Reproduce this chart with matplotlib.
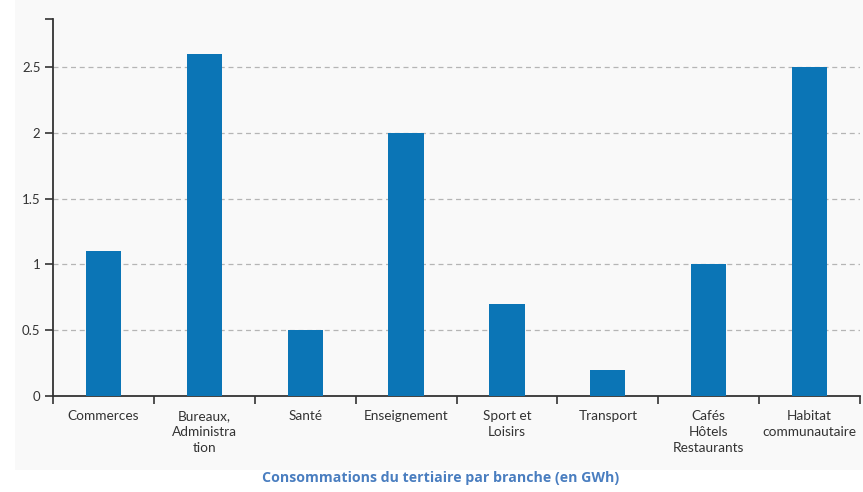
import numpy as np
import matplotlib
matplotlib.use('Agg')
import matplotlib.pyplot as plt

categories = ['Commerces', 'Bureaux,\nAdministra\ntion', 'Santé', 'Enseignement',
              'Sport et\nLoisirs', 'Transport', 'Cafés\nHôtels\nRestaurants',
              'Habitat\ncommunautaire']
values = [1.1, 2.6, 0.5, 2.0, 0.7, 0.2, 1.0, 2.5]
yticks = [0, 0.5, 1, 1.5, 2, 2.5]
ytick_labels = ['0', '0.5', '1', '1.5', '2', '2.5']
title = 'Consommations du tertiaire par branche (en GWh)'

plt.rcParams['font.family'] = ['Lato', 'DejaVu Sans']

fig = plt.figure(figsize=(8.63, 4.92), dpi=100)
fig.patch.set_facecolor('white')

# panneau gris clair derrière le graphique
bg = fig.add_axes([15 / 863, 22 / 492, 848 / 863, 470 / 492], zorder=0)
bg.set_facecolor('#f9f9f9')
bg.set_xticks([])
bg.set_yticks([])
for s in bg.spines.values():
    s.set_visible(False)

ax = fig.add_axes([53 / 863, 96 / 492, 807 / 863, 377 / 492], zorder=1)
ax.set_facecolor('none')

n = len(categories)
x = np.arange(n) + 0.5
ax.bar(x, values, width=0.35, color='#0b75b6', zorder=3)

ax.set_xlim(0, n)
ax.set_ylim(0, 2.865)

# grille pointillée
for v in yticks[1:]:
    ax.axhline(v, color='#b5b5b5', lw=0.9, ls=(0, (4, 3)), zorder=1)

ax.set_yticks(yticks + [2.865])
ax.set_yticklabels(ytick_labels + [''])
ax.set_xticks(np.arange(n + 1))
ax.set_xticklabels([])
ax.set_xticks(x, minor=True)
ax.set_xticklabels(categories, minor=True, fontsize=9.8, color='#333333',
                   linespacing=1.42, va='top')
ax.tick_params(axis='x', which='minor', length=0, pad=10)
ax.tick_params(axis='x', which='major', length=6, width=1.2, color='#333333',
               direction='out')
ax.tick_params(axis='y', length=6, width=1.2, color='#333333', labelsize=9.5,
               labelcolor='#333333', pad=3)

for s in ['top', 'right']:
    ax.spines[s].set_visible(False)
for s in ['left', 'bottom']:
    ax.spines[s].set_color('#333333')
    ax.spines[s].set_linewidth(1.3)

fig.text(441 / 863, 14 / 492, title, ha='center', va='center', fontsize=10.2,
         fontweight='bold', color='#4a7ec0', family=['Open Sans', 'DejaVu Sans'])

fig.savefig('out.png', dpi=100)
